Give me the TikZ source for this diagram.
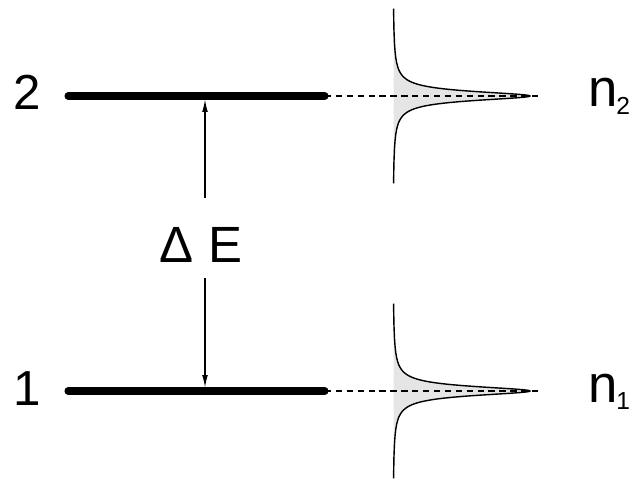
\documentclass[tikz,border=0pt]{standalone}
\usepackage{fontspec}
\setmainfont{Liberation Sans}
\usetikzlibrary{arrows.meta}

\begin{document}
\begin{tikzpicture}[
  level/.style={line width=4pt, line cap=round},
  link/.style={line width=0.6pt, dash pattern=on 3.6pt off 2.6pt},
  arr/.style={line width=0.6pt, -{Latex[length=7pt,width=3.2pt]}},
  lbl/.style={font=\fontsize{28}{28}\selectfont, inner sep=0pt, anchor=base},
  peak/.style={line width=0.8pt}]
\useasboundingbox (0,0) rectangle (12.8,9.58);
% the two levels, each with its line shape
\foreach \n/\y in {2/7.66, 1/1.76}{
  \coordinate (lev\n-w) at (1.36,\y);
  \coordinate (lev\n-e) at (6.5,\y);
  \coordinate (tip\n) at (10.76,\y);
  \fill[gray!20] plot[domain=-86.4:86.4, samples=150, variable=\t]
    ({7.86+2.74*cos(\t)*cos(\t)}, {\y+0.11*tan(\t)}) -- cycle;
  \draw[peak] plot[domain=-86.4:86.4, samples=150, variable=\t]
    ({7.86+2.74*cos(\t)*cos(\t)}, {\y+0.11*tan(\t)});
  \draw[link] (lev\n-e) -- (tip\n);
  \draw[level] (lev\n-w) -- (lev\n-e);
  \node[lbl] (num\n) at (0.54,\y-0.28) {\n};
  \node[lbl, anchor=base west, font=\fontsize{30}{30}\selectfont] (pop\n) at (11.77,\y-0.22)
    {n\kern-1pt\raisebox{-4.5pt}{\fontsize{14}{14}\selectfont\n}};
}
% energy gap
\coordinate (gap2) at (4.1,7.59);
\coordinate (gap1) at (4.1,1.83);
\node[lbl, font=\fontsize{29}{29}\selectfont, text height=0.96cm, text depth=0pt, inner ysep=0.32cm] (dE) at (4.02,4.34) {Δ E};
\draw[arr] (dE.north -| gap2) -- (gap2);
\draw[arr] (dE.south -| gap1) -- (gap1);
\end{tikzpicture}
\end{document}
